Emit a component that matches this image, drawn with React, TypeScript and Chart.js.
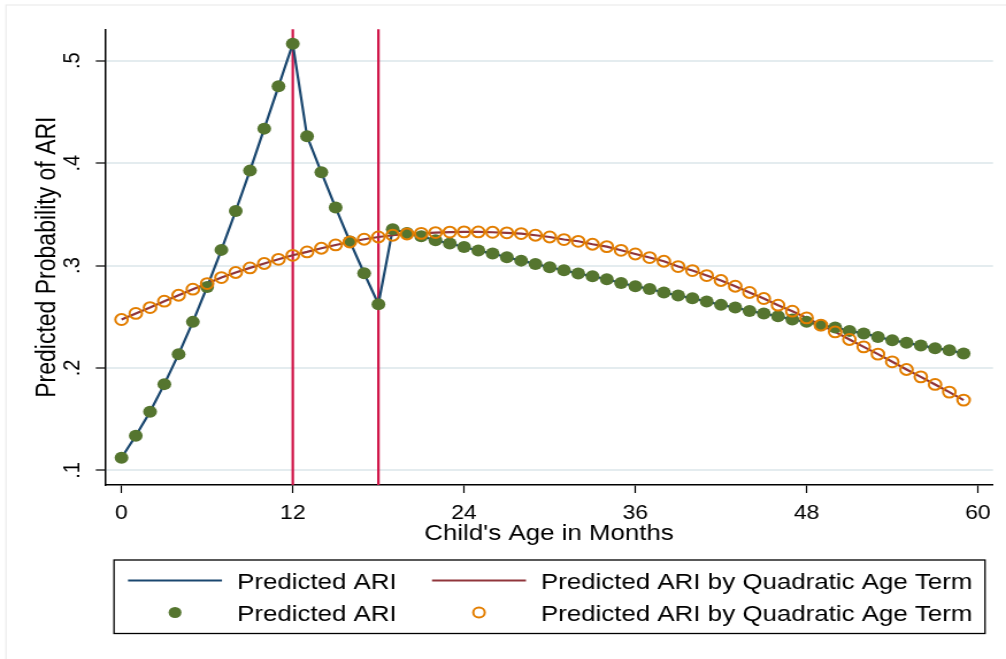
import React, { useEffect, useRef } from "react";
import { Chart, registerables } from "chart.js";

Chart.register(...registerables);

// ---------------- data ----------------
const months = [
  0, 1, 2, 3, 4, 5, 6, 7, 8, 9, 10, 11, 12, 13, 14, 15, 16, 17, 18, 19,
  20, 21, 22, 23, 24, 25, 26, 27, 28, 29, 30, 31, 32, 33, 34, 35, 36, 37, 38, 39,
  40, 41, 42, 43, 44, 45, 46, 47, 48, 49, 50, 51, 52, 53, 54, 55, 56, 57, 58, 59,
];

const predictedARI = [
  0.1123, 0.1338, 0.1572, 0.1842, 0.2135, 0.245, 0.2791, 0.3153, 0.3533, 0.3927,
  0.4337, 0.475, 0.5166, 0.4262, 0.391, 0.3566, 0.3235, 0.2925, 0.2622, 0.3354,
  0.3318, 0.3286, 0.3247, 0.3215, 0.3181, 0.3146, 0.3117, 0.3081, 0.3048, 0.3016,
  0.2983, 0.2954, 0.2922, 0.2896, 0.2866, 0.283, 0.2798, 0.2772, 0.2737, 0.2707,
  0.2681, 0.2649, 0.2616, 0.259, 0.2557, 0.2532, 0.2505, 0.2473, 0.245, 0.2418,
  0.2395, 0.2362, 0.2337, 0.2303, 0.2271, 0.2245, 0.222, 0.2193, 0.2174, 0.2141,
];

const quadraticARI = [
  0.2473, 0.2532, 0.259, 0.2652, 0.271, 0.2769, 0.2824, 0.2883, 0.2932, 0.2977,
  0.302, 0.3061, 0.31, 0.3133, 0.3169, 0.3201, 0.323, 0.3257, 0.3279, 0.3296,
  0.3308, 0.3314, 0.3322, 0.3327, 0.3329, 0.3328, 0.3325, 0.332, 0.3312, 0.3296,
  0.3279, 0.3254, 0.3237, 0.3208, 0.3185, 0.3149, 0.3113, 0.3078, 0.3042, 0.299,
  0.2951, 0.2902, 0.2854, 0.2798, 0.2737, 0.2678, 0.2613, 0.2554, 0.2489, 0.2418,
  0.2352, 0.2278, 0.2206, 0.2135, 0.206, 0.1985, 0.1913, 0.1839, 0.1764, 0.1686,
];

const breakMonths = [12, 18];

const xTickValues = [0, 12, 24, 36, 48, 60];
const xTickLabels = ["0", "12", "24", "36", "48", "60"];
const yTickValues = [0.1, 0.2, 0.3, 0.4, 0.5];
const yTickLabels = [".1", ".2", ".3", ".4", ".5"];

const seriesLabels = ["Predicted ARI", "Predicted ARI by Quadratic Age Term"];
const xTitle = "Child's Age in Months";
const yTitle = "Predicted Probability of ARI";

// ---------------- styling / layout ----------------
const W = 1006;
const H = 659;
const CW = 875; // canvas drawn narrower, then stretched horizontally
const S = W / CW;
const FONT = '"Liberation Sans", Arial, Helvetica, sans-serif';

const NAVY = "rgb(26,71,111)";
const MAROON = "rgb(144,53,59)";
const GREEN = "rgb(85,117,47)";
const ORANGE = "rgb(227,126,0)";
const CRANBERRY = "rgb(208,20,72)";
const GRID = "rgb(228,236,239)";

const X_MIN = -1.156;
const X_MAX = 61.06;
const Y_MIN = 0.0857;
const Y_MAX = 0.5307;

const ix = (v: number) => v / S; // image x -> canvas x

const decorPlugin = {
  id: "decor",
  beforeDraw(chart: any) {
    const ctx = chart.ctx;
    ctx.save();
    ctx.fillStyle = "#ffffff";
    ctx.fillRect(0, 0, chart.width, chart.height);
    ctx.strokeStyle = "rgb(236,236,236)";
    ctx.lineWidth = 1.2;
    ctx.strokeRect(ix(6), 5, 3000, 3000);
    ctx.restore();
  },
  beforeDatasetsDraw(chart: any) {
    const ctx = chart.ctx;
    const xs = chart.scales.x;
    const area = chart.chartArea;
    ctx.save();
    ctx.strokeStyle = CRANBERRY;
    ctx.lineWidth = 2.2;
    breakMonths.forEach((m) => {
      const px = xs.getPixelForValue(m);
      ctx.beginPath();
      ctx.moveTo(px, area.top);
      ctx.lineTo(px, area.bottom);
      ctx.stroke();
    });
    ctx.restore();
  },
  afterDraw(chart: any) {
    const ctx = chart.ctx;
    const ys = chart.scales.y;
    ctx.save();
    // rotated y tick labels
    ctx.fillStyle = "#000";
    ctx.font = `20px ${FONT}`;
    ctx.textAlign = "center";
    ctx.textBaseline = "middle";
    yTickValues.forEach((v, i) => {
      const py = ys.getPixelForValue(v);
      ctx.save();
      ctx.translate(ix(73.5), py);
      ctx.rotate(-Math.PI / 2);
      ctx.fillText(yTickLabels[i], 0, 0);
      ctx.restore();
    });

    // legend box
    const bx = ix(114);
    const by = 560;
    const bw = ix(985) - ix(114);
    const bh = 73.5;
    ctx.strokeStyle = "#000";
    ctx.lineWidth = 1.3;
    ctx.strokeRect(bx, by, bw, bh);

    const row1 = 580.5;
    const row2 = 612.5;
    // line samples
    ctx.lineWidth = 2.2;
    ctx.strokeStyle = NAVY;
    ctx.beginPath();
    ctx.moveTo(ix(128), row1);
    ctx.lineTo(ix(222), row1);
    ctx.stroke();
    ctx.strokeStyle = MAROON;
    ctx.beginPath();
    ctx.moveTo(ix(432), row1);
    ctx.lineTo(ix(526), row1);
    ctx.stroke();
    // marker samples
    ctx.fillStyle = GREEN;
    ctx.beginPath();
    ctx.arc(ix(175), row2, 5.6, 0, Math.PI * 2);
    ctx.fill();
    ctx.strokeStyle = ORANGE;
    ctx.lineWidth = 2;
    ctx.beginPath();
    ctx.arc(ix(479), row2, 5, 0, Math.PI * 2);
    ctx.stroke();
    // texts
    ctx.fillStyle = "#000";
    ctx.font = `22.5px ${FONT}`;
    ctx.textAlign = "left";
    ctx.textBaseline = "alphabetic";
    ctx.fillText(seriesLabels[0], ix(237), 589);
    ctx.fillText(seriesLabels[1], ix(541), 589);
    ctx.fillText(seriesLabels[0], ix(237), 621);
    ctx.fillText(seriesLabels[1], ix(541), 621);
    ctx.restore();
  },
};

export default function App() {
  const canvasRef = useRef<HTMLCanvasElement | null>(null);

  useEffect(() => {
    if (!canvasRef.current) return;
    Chart.defaults.font.family = FONT;
    Chart.defaults.color = "#000";

    const toPts = (vals: number[]) => months.map((m, i) => ({ x: m, y: vals[i] }));

    const chart = new Chart(canvasRef.current, {
      type: "scatter",
      data: {
        datasets: [
          {
            label: seriesLabels[0],
            data: toPts(predictedARI),
            showLine: true,
            borderColor: NAVY,
            borderWidth: 2.2,
            pointRadius: 0,
            pointHoverRadius: 0,
            order: 4,
          },
          {
            label: seriesLabels[1],
            data: toPts(quadraticARI),
            showLine: true,
            borderColor: MAROON,
            borderWidth: 2.2,
            pointRadius: 0,
            pointHoverRadius: 0,
            order: 3,
          },
          {
            label: seriesLabels[0],
            data: toPts(predictedARI),
            showLine: false,
            pointRadius: 6,
            pointBackgroundColor: GREEN,
            pointBorderColor: GREEN,
            pointBorderWidth: 0,
            order: 2,
          },
          {
            label: seriesLabels[1],
            data: toPts(quadraticARI),
            showLine: false,
            pointRadius: 5.4,
            pointBackgroundColor: "rgba(0,0,0,0)",
            pointBorderColor: ORANGE,
            pointBorderWidth: 2,
            order: 1,
          },
        ],
      },
      options: {
        responsive: false,
        animation: false,
        devicePixelRatio: 1,
        layout: { padding: { left: 0, top: 29.3, right: CW - ix(993), bottom: 0 } },
        plugins: {
          legend: { display: false },
          tooltip: { enabled: false },
        },
        scales: {
          x: {
            type: "linear",
            min: X_MIN,
            max: X_MAX,
            afterBuildTicks: (s: any) => {
              s.ticks = xTickValues.map((v) => ({ value: v }));
            },
            afterFit: (s: any) => {
              s.height = H - 485;
            },
            grid: {
              drawOnChartArea: false,
              drawTicks: true,
              tickLength: 8,
              tickColor: "#000",
              tickWidth: 1.2,
            },
            border: { display: true, color: "#000", width: 1.5 },
            ticks: {
              color: "#000",
              font: { size: 20 },
              padding: 8,
              maxRotation: 0,
              minRotation: 0,
              autoSkip: false,
              callback: (v: any) => {
                const i = xTickValues.indexOf(Number(v));
                return i >= 0 ? xTickLabels[i] : "";
              },
            },
            title: {
              display: true,
              text: xTitle,
              color: "#000",
              font: { size: 22.5 },
              padding: { top: 0, bottom: 111.5 },
            },
          },
          y: {
            type: "linear",
            min: Y_MIN,
            max: Y_MAX,
            afterBuildTicks: (s: any) => {
              s.ticks = yTickValues.map((v) => ({ value: v }));
            },
            afterFit: (s: any) => {
              s.width = ix(105);
            },
            grid: {
              color: GRID,
              lineWidth: 2,
              drawOnChartArea: true,
              drawTicks: true,
              tickLength: 8,
              tickColor: "#000",
              tickWidth: 1.2,
            },
            border: { display: true, color: "#000", width: 1.5 },
            ticks: { display: false },
            title: {
              display: true,
              text: yTitle,
              color: "#000",
              font: { size: 23 },
              padding: { top: 28.2, bottom: 0 },
            },
          },
        },
      },
      plugins: [decorPlugin],
    });

    return () => chart.destroy();
  }, []);

  return (
    <div
      style={{
        position: "absolute",
        left: 0,
        top: 0,
        width: W,
        height: H,
        overflow: "hidden",
        background: "#ffffff",
      }}
    >
      <canvas
        ref={canvasRef}
        width={CW}
        height={H}
        style={{
          display: "block",
          width: CW,
          height: H,
          transform: `scaleX(${S})`,
          transformOrigin: "0 0",
        }}
      />
    </div>
  );
}
